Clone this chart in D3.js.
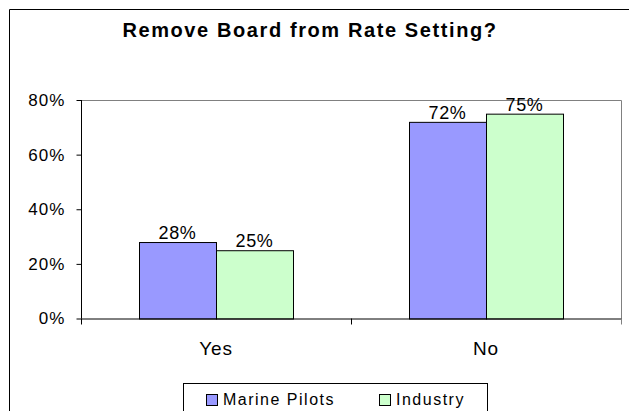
<!DOCTYPE html>
<html>
<head>
<meta charset="utf-8">
<script src="https://cdn.jsdelivr.net/npm/d3@7/dist/d3.min.js"></script>
<style>
  html, body { margin: 0; padding: 0; background: #fff; }
  svg { display: block; }
  text { font-family: Arial, "Liberation Sans", sans-serif; fill: #000; }
</style>
</head>
<body>
<svg id="chart" width="629" height="411"></svg>
<script>
const title = "Remove Board from Rate Setting?";
const categories = ["Yes", "No"];
const seriesNames = ["Marine Pilots", "Industry"];
const marinePilots = [28, 72];
const industry = [25, 75];
const yTicks = [0, 20, 40, 60, 80];
const colors = ["#9999ff", "#ccffcc"];

const svg = d3.select("#chart");
const W = 629, H = 411;
const plot = { left: 81, top: 100, right: 621, bottom: 318.5 };

// outer chart border (cropped on right/bottom)
svg.append("path")
  .attr("d", `M9.5,${H + 2} L9.5,9.5 L${W + 2},9.5`)
  .attr("fill", "none").attr("stroke", "#000").attr("stroke-width", 1);

// title
svg.append("text")
  .attr("x", 310).attr("y", 37)
  .attr("text-anchor", "middle")
  .style("font-weight", "bold").style("font-size", "20px").style("letter-spacing", "1.6px")
  .text(title);

const x0 = d3.scaleBand().domain(categories).range([plot.left, plot.right]).paddingInner(0).paddingOuter(0);
const x1 = d3.scaleBand().domain(seriesNames).range([58, x0.bandwidth() - 58]);
const y = d3.scaleLinear().domain([0, 80]).range([plot.bottom, plot.top]);

// plot area border (gray top and right)
svg.append("path")
  .attr("d", `M${plot.left},${plot.top + 0.5} L${plot.right + 0.5},${plot.top + 0.5} L${plot.right + 0.5},${plot.bottom}`)
  .attr("fill", "none").attr("stroke", "#808080").attr("stroke-width", 1);

const data = categories.map((c, i) => ({ cat: c, vals: [marinePilots[i], industry[i]] }));

const groups = svg.append("g").selectAll("g").data(data).join("g")
  .attr("transform", d => `translate(${x0(d.cat)},0)`);

groups.selectAll("rect").data(d => d.vals.map((v, j) => ({ v, s: seriesNames[j], j })))
  .join("rect")
  .attr("x", d => x1(d.s) + 0.5)
  .attr("y", d => y(d.v) + 0.5)
  .attr("width", x1.bandwidth())
  .attr("height", d => plot.bottom - y(d.v))
  .attr("fill", d => colors[d.j])
  .attr("stroke", "#000").attr("stroke-width", 1);

groups.selectAll("text.lbl").data(d => d.vals.map((v, j) => ({ v, s: seriesNames[j] })))
  .join("text").attr("class", "lbl")
  .attr("x", d => x1(d.s) + x1.bandwidth() / 2)
  .attr("y", d => y(d.v) - 3)
  .attr("text-anchor", "middle")
  .style("font-size", "18px").style("letter-spacing", "0.7px")
  .text(d => d.v + "%");

// y axis
const yAxis = d3.axisLeft(y).tickValues(yTicks).tickSize(5).tickPadding(11).tickFormat(d => d + "%");
const gy = svg.append("g").attr("transform", `translate(${plot.left + 0.5},0)`).call(yAxis);
gy.select(".domain").attr("stroke", "#000").attr("d", `M0,${plot.top}V${plot.bottom}`);
gy.selectAll(".tick line").attr("stroke", "#000");
gy.selectAll(".tick text").style("font-size", "17px").style("letter-spacing", "1.1px")
  .style("font-family", "Arial, 'Liberation Sans', sans-serif").attr("fill", "#000");

// x axis
svg.append("line")
  .attr("x1", plot.left).attr("x2", plot.right + 1)
  .attr("y1", plot.bottom + 0.5).attr("y2", plot.bottom + 0.5)
  .attr("stroke", "#000");
const xTickPos = [plot.left, ...categories.map(c => x0(c) + x0.bandwidth())];
svg.append("g").selectAll("line").data(xTickPos).join("line")
  .attr("x1", d => Math.round(d) + 0.5).attr("x2", d => Math.round(d) + 0.5)
  .attr("y1", plot.bottom).attr("y2", plot.bottom + 6)
  .attr("stroke", d => d === plot.right ? "#808080" : "#000");

svg.append("g").selectAll("text").data(categories).join("text")
  .attr("x", d => x0(d) + x0.bandwidth() / 2)
  .attr("y", 355)
  .attr("text-anchor", "middle")
  .style("font-size", "19px").style("letter-spacing", "0.9px")
  .text(d => d);

// legend
const lg = svg.append("g");
lg.append("rect").attr("x", 183.5).attr("y", 383.5).attr("width", 304).attr("height", 40)
  .attr("fill", "#fff").attr("stroke", "#000");
const legendX = [206, 379];
const li = lg.selectAll("g").data(seriesNames).join("g")
  .attr("transform", (d, i) => `translate(${legendX[i]},0)`);
li.append("rect").attr("x", 0.5).attr("y", 394.5).attr("width", 11).attr("height", 11)
  .attr("fill", (d, i) => colors[i]).attr("stroke", "#000");
li.append("text").attr("x", 17).attr("y", 405)
  .style("font-size", "16px").style("letter-spacing", "1.5px")
  .text(d => d);
</script>
</body>
</html>
